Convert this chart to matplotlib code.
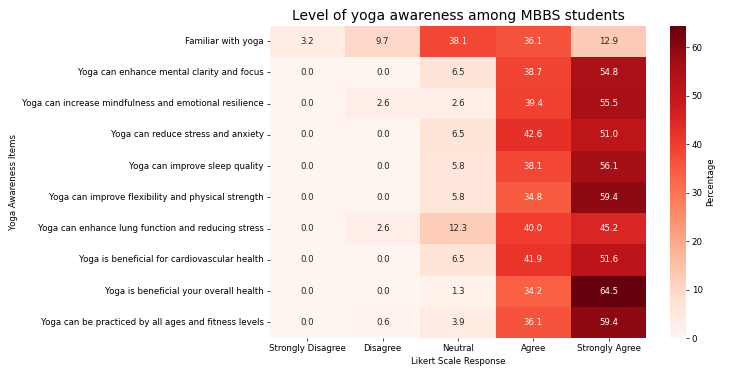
import numpy as np
import matplotlib
matplotlib.use("Agg")
import matplotlib.pyplot as plt
import seaborn as sns

items = [
    "Familiar with yoga",
    "Yoga can enhance mental clarity and focus",
    "Yoga can increase mindfulness and emotional resilience",
    "Yoga can reduce stress and anxiety",
    "Yoga can improve sleep quality",
    "Yoga can improve flexibility and physical strength",
    "Yoga can enhance lung function and reducing stress",
    "Yoga is beneficial for cardiovascular health",
    "Yoga is beneficial your overall health",
    "Yoga can be practiced by all ages and fitness levels",
]
responses = ["Strongly Disagree", "Disagree", "Neutral", "Agree", "Strongly Agree"]

strongly_disagree = [3.2, 0.0, 0.0, 0.0, 0.0, 0.0, 0.0, 0.0, 0.0, 0.0]
disagree = [9.7, 0.0, 2.6, 0.0, 0.0, 0.0, 2.6, 0.0, 0.0, 0.6]
neutral = [38.1, 6.5, 2.6, 6.5, 5.8, 5.8, 12.3, 6.5, 1.3, 3.9]
agree = [36.1, 38.7, 39.4, 42.6, 38.1, 34.8, 40.0, 41.9, 34.2, 36.1]
strongly_agree = [12.9, 54.8, 55.5, 51.0, 56.1, 59.4, 45.2, 51.6, 64.5, 59.4]

data = np.column_stack([strongly_disagree, disagree, neutral, agree, strongly_agree])

fig, ax = plt.subplots(figsize=(12, 6), dpi=62.5)
sns.heatmap(data, annot=True, fmt=".1f", cmap="Reds",
            xticklabels=responses, yticklabels=items,
            cbar_kws={"label": "Percentage"}, ax=ax)
ax.set_title("Level of yoga awareness among MBBS students", fontsize=16)
ax.set_xlabel("Likert Scale Response")
ax.set_ylabel("Yoga Awareness Items")
plt.tight_layout()
plt.savefig("out.png", dpi=62.5)
